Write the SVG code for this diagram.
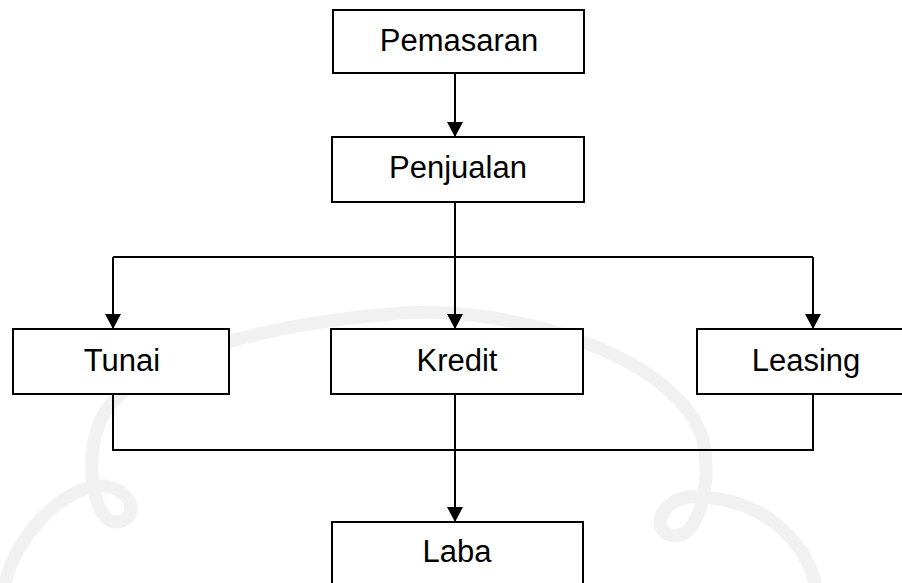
<svg xmlns="http://www.w3.org/2000/svg" width="902" height="583" viewBox="0 0 902 583">
<style>
.box{fill:#fff;stroke:#000;stroke-width:2}
.lbl{font-family:"Liberation Sans",Arial,sans-serif;font-size:31px;fill:#000;text-anchor:middle}
.ln{fill:none;stroke:#000;stroke-width:2}
.wm{fill:none;stroke:#f1f1f1;stroke-width:13;stroke-linecap:round}
</style>
<defs>
<marker id="arr" viewBox="0 0 15 16" refX="15" refY="8" markerWidth="15" markerHeight="16" markerUnits="userSpaceOnUse" orient="auto">
<path d="M0,0 L15,8 L0,16 Z" fill="#000"/>
</marker>
</defs>
<rect width="902" height="583" fill="#fff"/>
<g id="watermark">
<path class="wm" d="M97 430 C 110 380, 200 330, 400 313 C 520 305, 680 360, 703 440 C 712 480, 700 530, 680 535 C 650 540, 655 500, 690 497 C 760 495, 805 540, 815 583"/>
<path class="wm" d="M97 430 C 85 470, 95 520, 115 522 C 140 522, 135 490, 105 486 C 60 485, 15 540, 5 583"/>
</g>
<g id="connectors">
<path class="ln" d="M455 73 V137" marker-end="url(#arr)"/>
<path class="ln" d="M455 202 V329" marker-end="url(#arr)"/>
<path class="ln" d="M113 257 H813"/>
<path class="ln" d="M113 257 V329" marker-end="url(#arr)"/>
<path class="ln" d="M813 257 V329" marker-end="url(#arr)"/>
<path class="ln" d="M113 394 V450 H813 V394"/>
<path class="ln" d="M455 394 V522" marker-end="url(#arr)"/>
</g>
<g id="pemasaran">
<rect class="box" x="333" y="10" width="251" height="63"/>
<text class="lbl" x="459" y="51">Pemasaran</text>
</g>
<g id="penjualan">
<rect class="box" x="332" y="137" width="252" height="65"/>
<text class="lbl" x="458" y="178">Penjualan</text>
</g>
<g id="tunai">
<rect class="box" x="13" y="329" width="216" height="65"/>
<text class="lbl" x="122" y="371">Tunai</text>
</g>
<g id="kredit">
<rect class="box" x="331" y="329" width="252" height="65"/>
<text class="lbl" x="457" y="371">Kredit</text>
</g>
<g id="leasing">
<rect class="box" x="697" y="329" width="220" height="65"/>
<text class="lbl" x="806" y="371">Leasing</text>
</g>
<g id="laba">
<rect class="box" x="332" y="522" width="251" height="75"/>
<text class="lbl" x="457" y="562">Laba</text>
</g>
</svg>
